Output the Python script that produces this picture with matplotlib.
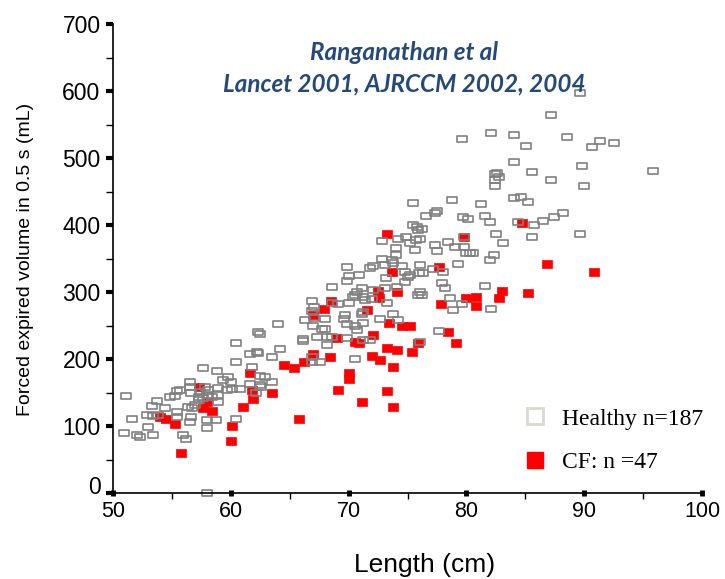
import matplotlib
matplotlib.use("Agg")
import matplotlib.pyplot as plt
from matplotlib.path import Path
from matplotlib.ticker import MultipleLocator
from matplotlib.lines import Line2D
from matplotlib.transforms import offset_copy

# Healthy infants: length (cm), FEV0.5 (mL)
healthy_len = [
    51.1, 50.9, 51.6, 52.0, 52.3, 53.0, 53.4, 52.9, 53.4, 53.8,
    53.3, 53.7, 54.4, 54.8, 55.3, 55.4, 55.7, 55.4, 55.4, 55.9,
    56.2, 56.5, 56.5, 56.6, 56.4, 56.7, 57.0, 56.5, 56.6, 57.6,
    57.4, 57.3, 57.3, 57.6, 57.8, 58.1, 58.0, 58.4, 58.0, 58.0,
    58.7, 58.8, 59.3, 59.8, 60.0, 58.9, 58.9, 58.9, 59.7, 60.1,
    60.4, 60.4, 60.4, 58.0,
    61.6, 62.5, 62.6, 63.5, 62.1, 60.8, 62.5, 62.9, 61.8, 61.6,
    62.2, 62.3, 63.5, 64.2, 62.3, 62.5, 64.0,
    66.1, 66.1, 66.9, 66.9, 67.6, 66.3, 67.1, 68.0, 67.0, 67.7,
    68.0, 67.3, 68.2, 68.2, 66.9, 67.1, 66.9, 68.6,
    75.5, 75.5, 75.8, 75.9, 72.8, 74.2, 74.9, 75.2, 75.7, 74.0,
    74.0, 75.6, 72.8, 73.7, 69.9, 70.0, 69.9, 70.9, 71.8, 72.1,
    73.1, 73.8, 74.5, 74.8, 75.0, 73.2, 71.1, 70.7, 70.5, 70.4,
    72.1, 74.1, 74.8, 75.9, 71.4, 72.0, 70.0, 69.1, 68.6, 73.3,
    69.7, 69.6, 69.9, 71.1, 71.2, 70.5, 70.7, 72.7, 73.8, 74.2,
    68.6, 69.9, 71.2, 71.8, 70.5, 76.1,
    71.2, 73.1, 76.1, 76.2, 77.9, 78.2, 78.6, 78.9, 79.6, 81.6,
    82.1, 71.2, 77.7,
    82.4, 82.4, 82.4, 78.8, 81.2, 76.6, 77.3, 77.5, 79.7, 80.1,
    81.6, 82.0, 76.2, 76.1, 79.8, 82.5, 78.4, 77.3, 77.5, 79.0,
    79.8, 80.0, 80.3, 80.6, 82.3, 82.0, 79.3, 76.1, 76.0, 76.3,
    77.2, 78.0, 75.2,
    89.6, 87.2, 79.6, 82.1, 84.0, 85.1, 88.5, 90.7, 91.3, 92.5,
    84.0, 89.8, 95.8, 82.6, 82.8, 85.6, 87.2, 90.0, 84.0, 84.6,
    85.2, 84.4, 85.7, 86.5, 87.4, 88.2, 89.6, 85.6, 83.1,
]
healthy_fev = [
    145, 90, 110, 87, 84, 98, 87, 116, 115, 116,
    130, 137, 127, 143, 145, 152, 154, 121, 114, 87,
    81, 166, 158, 150, 128, 127, 131, 106, 113, 187,
    151, 143, 139, 142, 158, 154, 146, 143, 109, 97,
    109, 182, 169, 173, 166, 157, 146, 136, 154, 155,
    224, 196, 110, 0,
    163, 161, 158, 166, 149, 155, 175, 173, 188, 207,
    210, 209, 203, 215, 240, 237, 252,
    230, 227, 203, 196, 196, 258, 261, 260, 249, 245,
    245, 233, 233, 221, 287, 277, 272, 307,
    433, 400, 397, 392, 376, 379, 382, 373, 378, 366,
    355, 363, 349, 348, 337, 324, 316, 325, 336, 339,
    340, 343, 339, 330, 322, 321, 306, 300, 295, 293,
    303, 307, 315, 296, 288, 290, 284, 282, 284, 284,
    266, 260, 252, 267, 270, 249, 243, 260, 267, 258,
    233, 231, 228, 228, 200, 225,
    293, 306, 300, 295, 313, 306, 291, 273, 282, 309,
    275, 254, 242,
    476, 467, 458, 437, 431, 413, 418, 421, 412, 409,
    413, 404, 394, 379, 382, 387, 375, 370, 361, 367,
    367, 358, 358, 358, 355, 348, 342, 340, 328, 328,
    334, 330, 325,
    597, 564, 528, 537, 534, 518, 531, 516, 525, 522,
    494, 488, 481, 478, 472, 479, 467, 458, 440, 442,
    434, 404, 400, 406, 412, 418, 387, 382, 373,
]

# Cystic fibrosis infants
cf_len = [
    54.0, 54.5, 55.3, 55.8, 57.3, 57.6, 58.0, 58.4, 60.1, 60.0,
    61.0, 61.6, 61.8, 61.9, 63.5, 64.5, 65.4, 65.8, 66.2, 67.0,
    68.4, 69.1, 70.0, 70.0, 69.0, 67.9, 68.5, 67.0, 70.5, 70.9,
    71.1, 71.6, 72.1, 72.0, 72.7, 72.6, 72.5, 73.3, 73.7, 74.1,
    73.4, 74.5, 75.2, 73.3, 74.1, 75.4, 73.8, 73.3, 73.8, 75.9,
    78.4, 79.1, 77.8, 80.0, 80.8, 80.8, 82.8, 83.0, 85.2, 79.8,
    77.7, 84.7, 86.8, 90.8,
]
cf_fev = [
    113, 110, 103, 60, 158, 127, 136, 122, 100, 78,
    128, 179, 154, 140, 150, 191, 187, 110, 196, 207,
    203, 154, 179, 170, 231, 274, 286, 265, 225, 224,
    136, 273, 236, 204, 198, 291, 301, 386, 330, 300,
    254, 249, 249, 216, 213, 210, 188, 152, 128, 224,
    240, 224, 282, 291, 293, 279, 291, 302, 298, 382,
    337, 403, 342, 330,
]

rect = Path([(-1, -0.72), (1, -0.72), (1, 0.72), (-1, 0.72), (-1, -0.72)],
            [Path.MOVETO, Path.LINETO, Path.LINETO, Path.LINETO, Path.CLOSEPOLY])

fig = plt.figure(figsize=(7.25, 5.79), dpi=100)
ax = fig.add_axes([0.1559, 0.1485, 0.8124, 0.81])

ax.plot(cf_len, cf_fev, linestyle='none', marker=rect, markersize=7.5,
        mfc='#ff0000', mec='#ff0000', mew=0.5, clip_on=False)
ax.plot(healthy_len, healthy_fev, linestyle='none', marker=rect, markersize=6.8,
        mfc='none', mec='#808080', mew=1.2, clip_on=False)

ax.set_xlim(50, 100)
ax.set_ylim(0, 700)
ax.set_xticks(range(50, 101, 10))
ax.set_yticks(range(0, 701, 100))
ax.xaxis.set_minor_locator(MultipleLocator(5))
ax.yaxis.set_minor_locator(MultipleLocator(50))
for s in ['top', 'right']:
    ax.spines[s].set_visible(False)
for s in ['left', 'bottom']:
    ax.spines[s].set_linewidth(1.2)

ax.tick_params(axis='y', which='major', direction='out', length=5, width=3, pad=4)
ax.tick_params(axis='y', which='minor', direction='out', length=5, width=1)
ax.tick_params(axis='x', which='major', direction='inout', length=5, width=3.5, pad=3)
ax.tick_params(axis='x', which='minor', direction='out', length=4, width=1)

for lab in ax.get_xticklabels():
    lab.set_fontfamily('Liberation Sans')
    lab.set_fontsize(15.5)
for lab in ax.get_yticklabels():
    lab.set_fontfamily('Liberation Sans')
    lab.set_fontsize(16.5)
# the "0" label sits a little above its tick
zero = ax.get_yticklabels()[0]
zero.set_transform(offset_copy(zero.get_transform(), fig=fig, x=0, y=8, units='dots'))

fig.text(26 / 725, 1 - 259 / 579, 'Forced expired volume in 0.5 s (mL)', rotation=90,
         ha='center', va='center', fontsize=14, family='Liberation Sans')
fig.text(425 / 725, 1 - 565 / 579, 'Length (cm)', ha='center', va='center',
         fontsize=19, family='Liberation Sans')

fig.text(404 / 725, 1 - 52 / 579, 'Ranganathan et al', ha='center', va='center',
         fontsize=17.5, family='Lato', style='italic', weight='bold', color='#24497a')
fig.text(404 / 725, 1 - 84 / 579, 'Lancet 2001, AJRCCM 2002, 2004', ha='center', va='center',
         fontsize=17.5, family='Lato', style='italic', weight='bold', color='#24497a')

handles = [
    Line2D([], [], linestyle='none', marker='s', markersize=11.5, mfc='white',
           mec='#d9d9cf', mew=2),
    Line2D([], [], linestyle='none', marker='s', markersize=12, mfc='#ff0000',
           mec='#ff0000'),
]
fig.legend(handles, ['Healthy n=187', 'CF: n =47'], loc='upper left',
           bbox_to_anchor=(523 / 725, 1 - 408 / 579), frameon=False, borderpad=0,
           borderaxespad=0, handlelength=1.0, handletextpad=0.65, labelspacing=0.95,
           prop={'family': 'Liberation Serif', 'size': 17})

fig.savefig('out.png', dpi=100)
